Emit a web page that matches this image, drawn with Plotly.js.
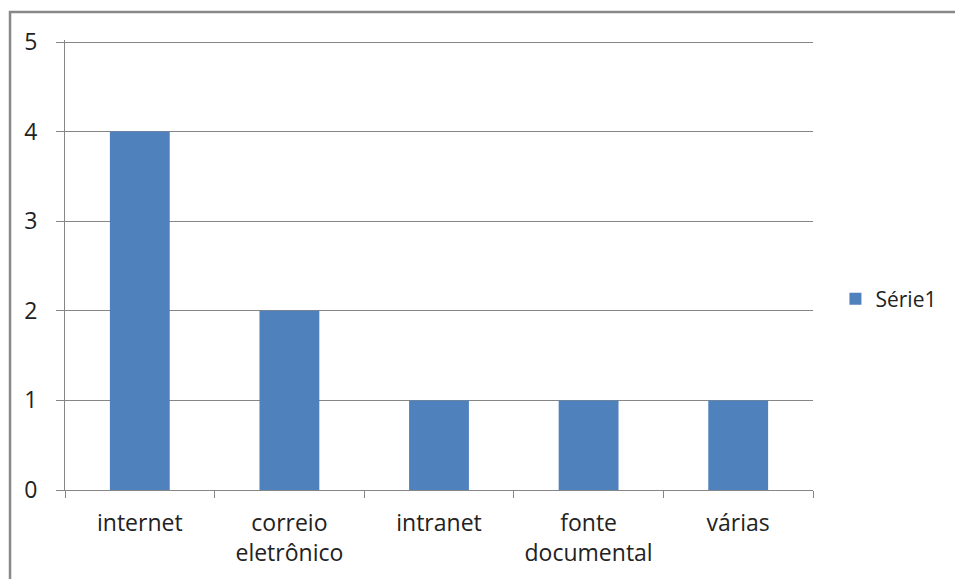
<!DOCTYPE html>
<html>
<head>
<meta charset="utf-8">
<script src="https://cdn.plot.ly/plotly-3.0.1.min.js"></script>
<style>
html,body{margin:0;padding:0;background:#fff;}
#chart{width:955px;height:579px;}
</style>
</head>
<body>
<div id="chart"></div>
<script>
const categories = ["internet", "correio<br>eletrônico", "intranet", "fonte<br>documental", "várias"];
const values = [4, 2, 1, 1, 1];
const seriesName = "Série1";
const yTicks = [0, 1, 2, 3, 4, 5];

const font = {family: "Open Sans, sans-serif", size: 23, color: "#222"};
const legendFont = {family: "Open Sans, sans-serif", size: 21, color: "#222"};

const data = [{
  type: "bar",
  x: categories,
  y: values,
  name: seriesName,
  marker: {color: "#4F81BD"},
  showlegend: true
}];

const layout = {
  width: 955, height: 579,
  margin: {l: 65, r: 142, t: 40, b: 89, pad: 0, autoexpand: false},
  paper_bgcolor: "#fff", plot_bgcolor: "#fff",
  font: font,
  bargap: 0.6,
  showlegend: true,
  legend: {x: 1.03, y: 0.424, xanchor: "left", yanchor: "middle", font: legendFont, itemwidth: 30, bgcolor: "rgba(0,0,0,0)"},
  xaxis: {
    type: "category",
    showline: true, linecolor: "#868686", linewidth: 1,
    ticks: "outside", tickson: "boundaries", ticklen: 7, tickcolor: "#868686",
    showgrid: false, zeroline: false,
    tickfont: font,
    ticklabelstandoff: 12,
    automargin: false
  },
  yaxis: {
    range: [0, 5.0223],
    tickvals: yTicks,
    showline: true, linecolor: "#868686", linewidth: 1,
    ticks: "outside", ticklen: 8, tickcolor: "#868686",
    showgrid: true, gridcolor: "#868686", gridwidth: 1,
    zeroline: false,
    tickfont: font,
    ticklabelstandoff: 14,
    automargin: false
  },
  shapes: [{
    type: "rect", xref: "paper", yref: "paper",
    x0: -0.0735, x1: 1.25, y0: -0.25, y1: 1.0625,
    line: {color: "#888", width: 2.5}, fillcolor: "rgba(0,0,0,0)", layer: "below"
  }]
};

Plotly.newPlot("chart", data, layout, {displayModeBar: false, staticPlot: true});
</script>
</body>
</html>
